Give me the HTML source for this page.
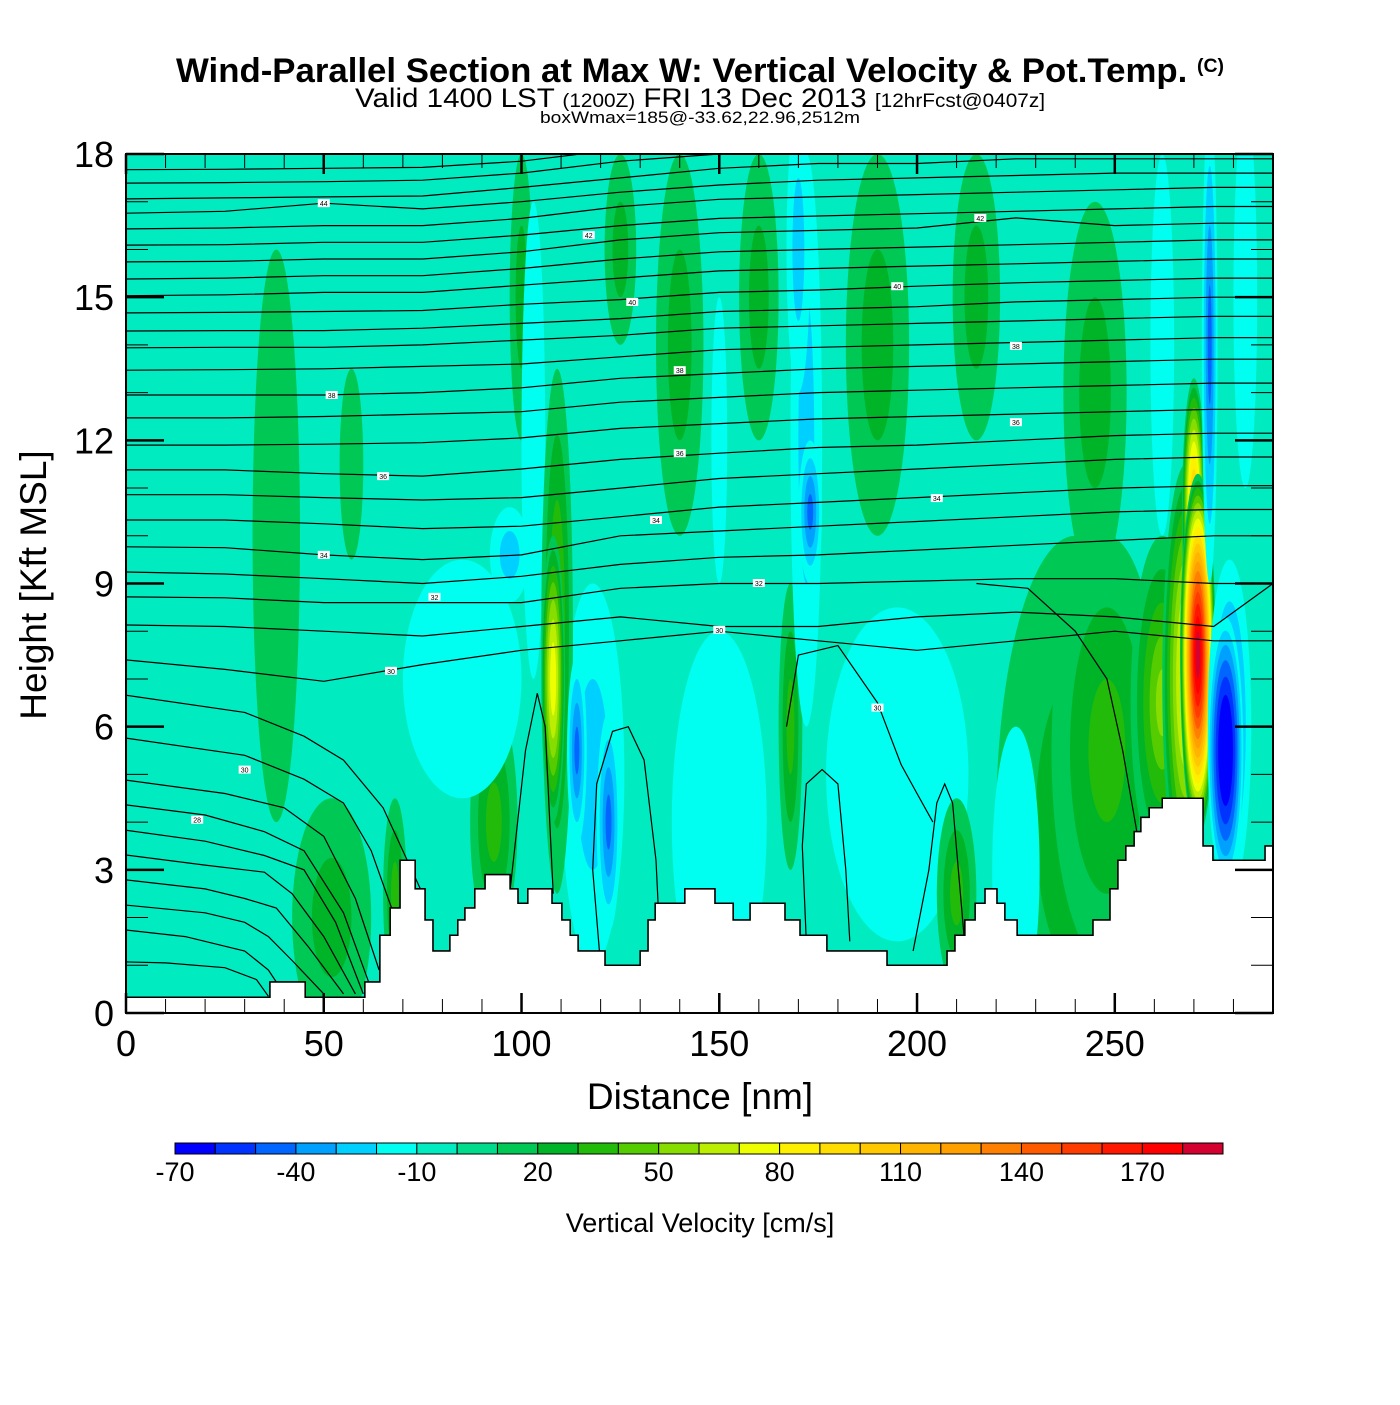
<!DOCTYPE html>
<html><head><meta charset="utf-8">
<style>
html,body{margin:0;padding:0;background:#fff;}
body{width:1400px;height:1400px;overflow:hidden;font-family:"Liberation Sans",sans-serif;}
svg text{font-family:"Liberation Sans",sans-serif;}
</style></head>
<body>
<svg id="chart" width="1400" height="1400" viewBox="0 0 1400 1400" xmlns="http://www.w3.org/2000/svg">
<text x="700" y="82" text-anchor="middle" font-size="34" font-weight="bold" textLength="1048" lengthAdjust="spacingAndGlyphs">Wind-Parallel Section at Max W: Vertical Velocity &amp; Pot.Temp. <tspan font-size="19" dy="-10">(C)</tspan></text>
<text x="700" y="107" text-anchor="middle" font-size="27" textLength="690" lengthAdjust="spacingAndGlyphs">Valid 1400 LST <tspan font-size="19">(1200Z)</tspan> FRI 13 Dec 2013 <tspan font-size="19">[12hrFcst@0407z]</tspan></text>
<text x="700" y="123" text-anchor="middle" font-size="17" textLength="320" lengthAdjust="spacingAndGlyphs">boxWmax=185@-33.62,22.96,2512m</text>
<defs><clipPath id="plotclip"><rect x="126" y="154" width="1147" height="859"/></clipPath></defs>
<g id="plot" clip-path="url(#plotclip)">
<rect x="126" y="154" width="1147" height="859" fill="#00ecc0"/>
<g id="blobs"></g>
<g id="terrain"></g>
<g id="contours"></g>
</g>
<g id="axes"></g>
<g id="cbar"></g>
<text x="700" y="1109" text-anchor="middle" font-size="37">Distance [nm]</text>
<text x="0" y="0" transform="translate(46,585) rotate(-90)" text-anchor="middle" font-size="37">Height [Kft MSL]</text>
<text x="700" y="1232" text-anchor="middle" font-size="27">Vertical Velocity [cm/s]</text>
</svg>
<script>
// ---- data ----
const binColors = ["#0000ff","#0033ff","#0066ff","#00a0ff","#00d0ff","#00fff0","#00ecc0","#00dc8c","#00c855","#00b428","#22bb0a","#55cc00","#88dd00","#bbee00","#eeff00","#fff000","#ffdd00","#ffc800","#ffb400","#ff9f00","#ff8000","#ff5a00","#ff3c00","#ff1800","#ff0000","#d40030"];
const cbarMin = -70, cbarStep = 10;
const cbarLabels = [-70,-40,-10,20,50,80,110,140,170];
const xTicks = [0,50,100,150,200,250];
const yTicks = [0,3,6,9,12,15,18];
// velocity features: distance (nm), height (kft), half-width (nm), half-height (kft), peak (cm/s)
const blobDist = [240,248,38,57,52,68,93,85,97,118,150,195,225,140,160,190,215,245,125,100,103,150,262,283,109,108,114,122,168,172,170,173,210,262,268,270,271,279,278,274];
const blobH    = [4,5.5,10,11.5,2,2.5,4,7,9.6,5,4,5,3,14,15,14,15,13,16,15,12,12,14,15,8,7,5.5,4,6,12,16,10.5,2.5,6.5,7,10.5,7.5,6,5.5,14];
const blobRD   = [20,14,6,3,10,3,6,15,5,8,12,18,6,6,5,8,6,8,4,3,3,2,3,3,4,3,2.5,3,3,4,3,3,5,8,6,3,4.5,5.5,4.5,2];
const blobRH   = [6,4.5,6,2,2.5,2,2.5,2.5,1,4,4,3.5,3,4,3,4,3,4,2,3,5,3,4,4,5.5,3,2,2.3,3,6,3,1.5,2,3.5,4.5,2.8,3.8,3.5,2.8,5];
const blobV    = [20,30,10,10,20,30,30,-10,-20,-20,-10,-10,-10,20,20,20,20,20,20,20,-10,-10,-10,-10,40,70,-40,-40,30,-20,-20,-40,30,50,70,100,180,-40,-70,-40];
// terrain step profile
const terrainDist = [0,36.4,45.3,60.4,64.2,66.8,69.3,73.1,75.6,77.6,81.9,83.9,85.7,88.2,90.8,97.1,99.1,101.6,107.7,110.2,112.3,114.3,121.1,130,132,133.8,141.3,148.9,153.5,157.8,166.6,170.4,177.2,192.4,207.6,209.6,212.1,214.7,217.2,220.2,222.2,225.3,244.5,248.8,250.8,252.8,254.9,256.6,258.7,262,272.3,274.8,281.7,288];
const terrainH    = [0.33,0.65,0.33,0.65,1.63,2.2,3.2,2.6,1.95,1.3,1.63,1.95,2.2,2.6,2.9,2.6,2.3,2.6,2.3,1.95,1.63,1.3,1.0,1.3,1.95,2.3,2.6,2.3,1.95,2.3,1.95,1.63,1.3,1.0,1.3,1.63,1.95,2.3,2.6,2.3,1.95,1.63,1.95,2.6,3.2,3.5,3.8,4.1,4.3,4.5,3.5,3.2,3.2,3.5];
// potential temperature contours (upper, spanning)
const thetaNodes = [0,25,50,75,100,125,150,175,200,225,250,275,290];
const thetaUpper = [
[17.67,17.68,17.7,17.72,17.85,18.1,18.3,18.4,18.4,18.5,18.5,18.5,18.5],
[17.39,17.4,17.42,17.45,17.6,17.85,18.0,18.1,18.1,18.2,18.2,18.2,18.2],
[17.06,17.08,17.1,17.12,17.3,17.5,17.7,17.8,17.8,17.9,17.9,17.9,17.9],
[16.76,16.8,16.97,16.85,17.0,17.2,17.35,17.45,17.5,17.55,17.6,17.6,17.6],
[16.43,16.45,16.5,16.5,16.65,16.9,17.05,17.1,17.15,17.2,17.25,17.3,17.3],
[16.09,16.1,16.15,16.15,16.3,16.5,16.65,16.7,16.75,16.8,16.85,16.9,16.9],
[15.74,15.75,15.8,15.8,15.95,16.2,16.35,16.4,16.45,16.66,16.5,16.55,16.55],
[15.38,15.4,15.45,15.45,15.6,15.8,15.95,16.0,16.05,16.1,16.15,16.2,16.2],
[15.03,15.05,15.1,15.1,15.25,15.4,15.55,15.6,15.65,15.7,15.75,15.8,15.8],
[14.67,14.68,14.7,14.72,14.85,14.95,15.1,15.15,15.23,15.3,15.35,15.4,15.4],
[14.29,14.3,14.3,14.35,14.45,14.55,14.7,14.75,14.8,14.9,14.95,15.0,15.0],
[13.94,13.95,13.95,14.0,14.1,14.2,14.35,14.4,14.45,14.5,14.55,14.6,14.6],
[13.47,13.48,13.5,13.55,13.6,13.75,13.9,13.95,14.0,14.05,14.1,14.15,14.15],
[12.95,12.95,12.95,13.0,13.1,13.3,13.4,13.5,13.55,13.6,13.65,13.7,13.7],
[12.47,12.47,12.5,12.55,12.6,12.8,12.9,13.0,13.05,13.1,13.15,13.2,13.2],
[11.9,11.9,11.92,11.95,12.05,12.25,12.35,12.45,12.5,12.55,12.6,12.65,12.65],
[11.38,11.38,11.3,11.25,11.4,11.6,11.73,11.85,11.9,12.0,12.1,12.15,12.15],
[10.86,10.86,10.8,10.75,10.8,11.0,11.2,11.3,11.4,11.5,11.6,11.65,11.65],
[10.33,10.33,10.25,10.15,10.2,10.4,10.6,10.7,10.8,10.9,11.0,11.05,11.05],
[9.77,9.75,9.6,9.5,9.6,10.0,10.1,10.2,10.3,10.4,10.5,10.55,10.55],
[9.24,9.2,9.1,9.0,9.15,9.4,9.55,9.6,9.7,9.8,9.9,10.0,10.0],
[8.72,8.7,8.6,8.6,8.6,8.9,9.0,9.0,9.05,9.1,9.1,9.0,9.0],
[8.13,8.1,8.0,7.9,8.1,8.3,8.1,8.1,8.3,8.4,8.3,8.1,9.0],
[7.4,7.2,6.95,7.3,7.6,7.8,8.0,7.8,7.6,7.8,8.0,7.8,7.8]
];
// lower contours and closed loops (individual paths)
const thetaLowDist = [
[0,30,45,55,65,75],[0,30,45,55,62,68],[0,25,40,50,58,64],[0,20,35,45,55,62],[0,20,35,45,53,60],
[0,20,35,42,50,58],[0,20,30,38,46,55],[0,20,30,36,42,50],[0,15,30,36,40],[0,10,25,33,36],
[120,118,119,123,127,131,134,135],[172,171,172,176,180,182,183],[199,203,205,207,209,212],
[167,170,180,190,196,200,204],[215,228,240,248,252,256],[97,101,104,106,108]
];
const thetaLowH = [
[6.66,6.3,5.8,5.3,4.3,2.5],[5.76,5.4,4.9,4.4,3.4,2.0],[4.88,4.6,4.3,3.7,2.4,0.9],[4.36,4.15,3.8,3.4,2.1,0.5],[3.83,3.6,3.3,3.0,1.9,0.4],
[3.31,3.1,2.95,2.5,1.6,0.4],[2.79,2.6,2.4,2.2,1.4,0.4],[2.26,2.1,1.9,1.6,1.1,0.4],[1.74,1.6,1.3,0.9,0.4],[1.07,1.05,0.95,0.7,0.35],
[1.0,3.0,4.8,5.9,6.0,5.3,3.2,1.5],[1.5,3.5,4.8,5.1,4.8,3.0,1.5],[1.3,3.0,4.4,4.8,4.4,1.5],
[6.0,7.5,7.7,6.5,5.2,4.6,4.0],[9.0,8.9,8.0,7.0,5.5,3.6],[2.5,5.5,6.7,6.0,2.5]
];
const labelDist = [50,117,216,128,195,52,140,225,65,140,225,50,134,205,78,160,67,150,30,18,190];
const labelH    = [16.97,16.3,16.66,14.9,15.23,12.95,13.47,13.98,11.25,11.73,12.38,9.6,10.33,10.79,8.72,9.01,7.17,8.03,5.1,4.05,6.4];
const labelText = ["44","42","42","40","40","38","38","38","36","36","36","34","34","34","32","32","30","30","30","28","30"];
</script>
<script>
const NS="http://www.w3.org/2000/svg";
const X0=126,X1=1273,Y0=1013,Y1=154,DMAX=290,HMAX=18;
const xs=d=>X0+d*(X1-X0)/DMAX;
const ys=h=>Y0-h*(Y0-Y1)/HMAX;
function mk(tag,attrs,parent){const e=document.createElementNS(NS,tag);for(const k in attrs)e.setAttribute(k,attrs[k]);parent.appendChild(e);return e;}
const binOf=v=>Math.max(0,Math.min(binColors.length-1,Math.floor((v-cbarMin)/cbarStep)));

// blobs
const gB=document.getElementById('blobs');
for(let i=0;i<blobV.length;i++){
  const v=blobV[i];const sign=v>0?1:-1;
  const n=Math.floor(Math.abs(v)/10);
  for(let k=0;k<n;k++){
    const lvl=sign*10*(k+1);
    const s=n>6?Math.pow(1-k/n,0.7):1-k/n;
    const e=mk('ellipse',{cx:xs(blobDist[i]),cy:ys(blobH[i]),rx:(xs(blobRD[i])-xs(0))*s,ry:(ys(0)-ys(blobRH[i]))*s,fill:binColors[binOf(lvl+(sign>0?5:-5))]},gB);
    
    
  }
}
// terrain
const gT=document.getElementById('terrain');
let tp=`M${xs(0)},${Y0+2}`;
for(let i=0;i<terrainDist.length;i++){
  const xa=xs(terrainDist[i]), xb=i+1<terrainDist.length?xs(terrainDist[i+1]):X1+2;
  tp+=` L${xa},${ys(terrainH[i])} L${xb},${ys(terrainH[i])}`;
}
tp+=` L${X1+2},${Y0+2} Z`;
const tpath=mk('path',{d:tp,fill:'#ffffff',stroke:'#000','stroke-width':1.5},gT);


// contours
const gC=document.getElementById('contours');
function line(ds,hs){
  let p='';for(let j=0;j<ds.length;j++)p+=(j?' L':'M')+xs(ds[j]).toFixed(1)+','+ys(hs[j]).toFixed(1);
  const e=mk('path',{d:p,fill:'none',stroke:'#000','stroke-width':1.2},gC);
  
  
}
thetaUpper.forEach(hs=>line(thetaNodes,hs));
thetaLowDist.forEach((ds,i)=>line(ds,thetaLowH[i]));
const tmask=mk('path',{d:tp,fill:'#ffffff',stroke:'#000','stroke-width':1.5},gC);


for(let i=0;i<labelText.length;i++){
  const r=mk('rect',{x:xs(labelDist[i])-6,y:ys(labelH[i])-4,width:12,height:8,fill:'#fff'},gC);
  
  
  const t=mk('text',{x:xs(labelDist[i]),y:ys(labelH[i])+3,'font-size':7,'text-anchor':'middle'},gC);
  t.textContent=labelText[i];
  
  
}
// axes
const gA=document.getElementById('axes');
for(let d=0;d<=DMAX;d+=10){
  const major=d%50===0;const L=major?20:14;
  const a=mk('line',{x1:xs(d),x2:xs(d),y1:Y0,y2:Y0-L,stroke:'#000','stroke-width':major?2.5:1},gA);
  
  
  const b=mk('line',{x1:xs(d),x2:xs(d),y1:Y1,y2:Y1+L,stroke:'#000','stroke-width':major?2.5:1},gA);
  
  
}
for(let h=0;h<=HMAX;h+=1){
  const major=h%3===0;const L=major?38:22;
  const a=mk('line',{x1:X0,x2:X0+L,y1:ys(h),y2:ys(h),stroke:'#000','stroke-width':major?2.5:1},gA);
  
  
  const b=mk('line',{x1:X1,x2:X1-L,y1:ys(h),y2:ys(h),stroke:'#000','stroke-width':major?2.5:1},gA);
  
  
}
const fr=mk('rect',{x:X0,y:Y1,width:X1-X0,height:Y0-Y1,fill:'none',stroke:'#000','stroke-width':2},gA);


xTicks.forEach(d=>{const t=mk('text',{x:xs(d),y:1056,'font-size':36,'text-anchor':'middle'},gA);t.textContent=d;
  
  });
yTicks.forEach(h=>{const t=mk('text',{x:114,y:ys(h)+13,'font-size':36,'text-anchor':'end'},gA);t.textContent=h;
  
  });
// colorbar
const gK=document.getElementById('cbar');
const CB0=175,CB1=1223,bw=(CB1-CB0)/binColors.length;
binColors.forEach((c,i)=>{const r=mk('rect',{x:CB0+i*bw,y:1143,width:bw,height:11,fill:c,stroke:'#000','stroke-width':1},gK);
  
  });
cbarLabels.forEach(v=>{const t=mk('text',{x:CB0+(v-cbarMin)/cbarStep*bw,y:1181,'font-size':27,'text-anchor':'middle'},gK);t.textContent=v;
  
  });
</script>
</body></html>
